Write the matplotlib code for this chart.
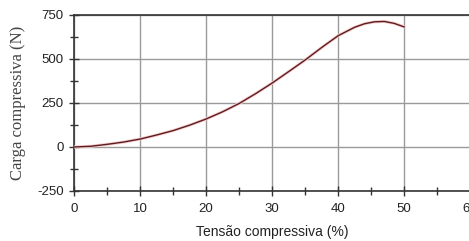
import matplotlib.pyplot as plt
from matplotlib.ticker import MultipleLocator

plt.rcParams['axes.unicode_minus'] = False

# Curve
strain = [0, 2.5, 5, 7.5, 10, 12.5, 15, 17.5, 20, 22.5, 25, 27.5, 30,
          32.5, 35, 37.5, 40, 42.5, 44, 45.5, 47, 48.5, 50]
load = [0, 4, 15, 28, 45, 68, 93, 124, 159, 200, 247, 303, 363,
        428, 494, 565, 632, 680, 700, 711, 713, 702, 682]

x_ticks = [0, 10, 20, 30, 40, 50, 60]
y_ticks = [-250, 0, 250, 500, 750]

fig = plt.figure(figsize=(4.69, 2.41), dpi=100)
fig.patch.set_facecolor('white')
ax = fig.add_axes([0.158, 0.2075, 0.8445, 0.7305])

ax.plot(strain, load, color='#f6cccc', linewidth=2.2, solid_capstyle='round', zorder=3)
ax.plot(strain, load, color='#5c1c20', linewidth=1.0, zorder=4)

ax.set_xlim(0, 60)
ax.set_ylim(-250, 750)
ax.set_xticks(x_ticks)
ax.set_yticks(y_ticks)
ax.xaxis.set_minor_locator(MultipleLocator(5))
ax.yaxis.set_minor_locator(MultipleLocator(125))

ax.grid(True, which='major', color='#9a9a9a', linewidth=1.0)
ax.set_axisbelow(True)

for side in ['left', 'bottom', 'top']:
    ax.spines[side].set_color('#333333')
    ax.spines[side].set_linewidth(1.2)
ax.spines['right'].set_visible(False)

ax.tick_params(which='both', direction='inout', color='#333333', width=1.0,
               labelsize=9.5, labelcolor='#222222', labelfontfamily='Liberation Sans')
ax.tick_params(which='major', length=7)
ax.tick_params(which='minor', length=6)
ax.tick_params(axis='x', pad=5)
ax.tick_params(axis='y', pad=4)

ax.set_xlabel('Tensão compressiva (%)', fontsize=10, family='Liberation Sans',
              color='#222222', labelpad=7)
ax.set_ylabel('Carga compressiva (N)', fontsize=12, family='Liberation Serif',
              color='#444444', labelpad=8)

fig.savefig('out.png', dpi=100, facecolor='white')
plt.close(fig)
